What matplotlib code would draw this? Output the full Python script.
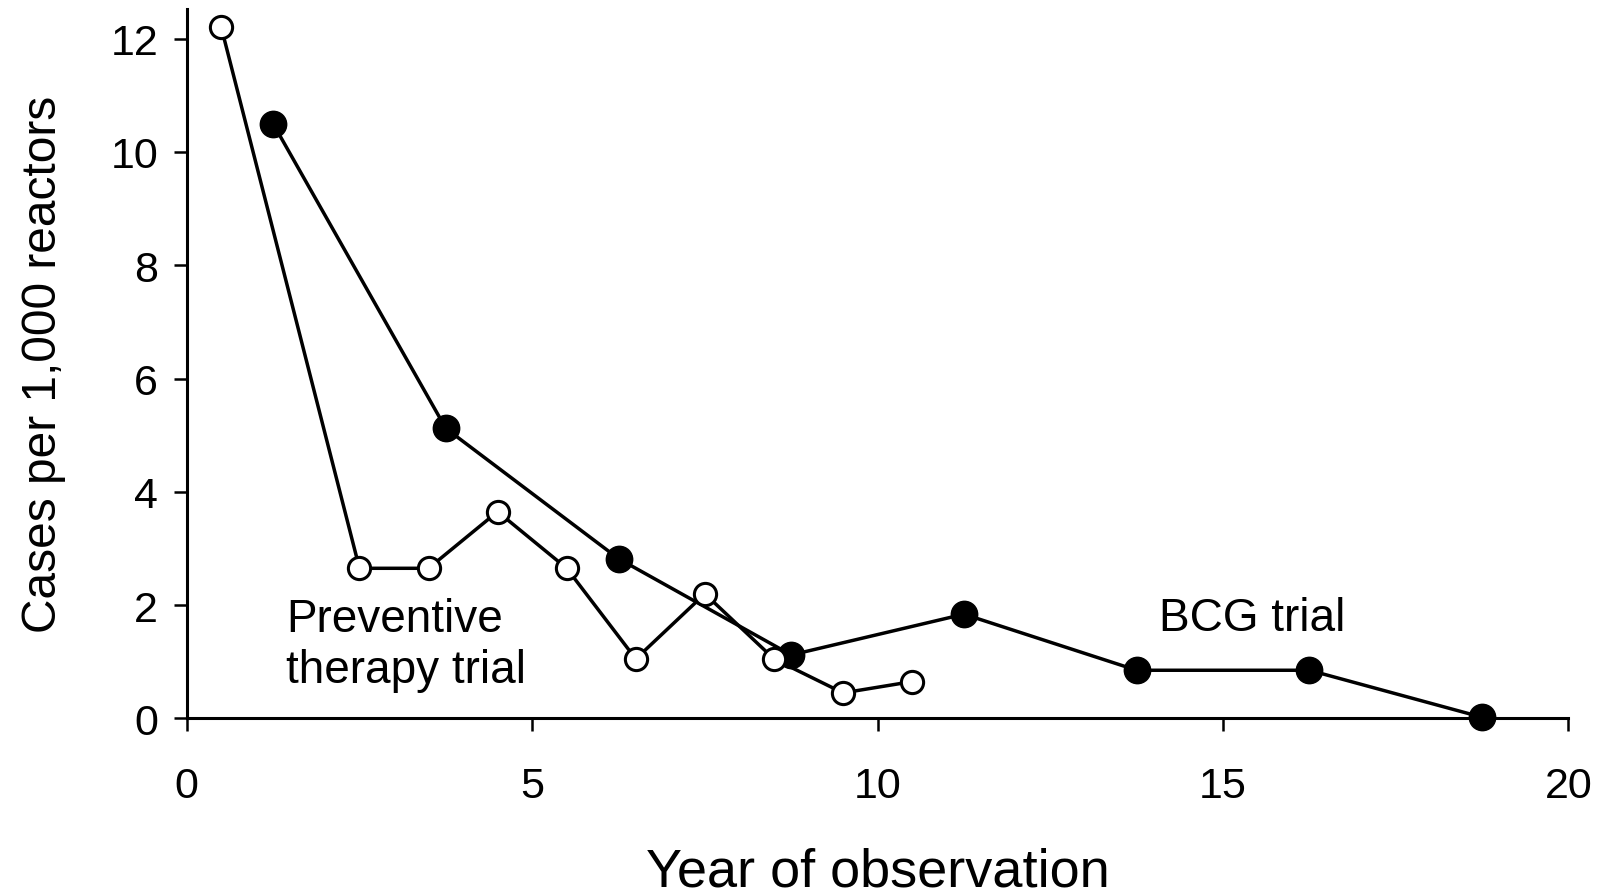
import numpy as np
import matplotlib.pyplot as plt

plt.rcParams["font.family"] = ["Liberation Sans", "DejaVu Sans"]

# preventive therapy trial (open circles)
pt_year = [0.5, 2.5, 3.5, 4.5, 5.5, 6.5, 7.5, 8.5, 9.5, 10.5]
pt_cases = [12.2, 2.65, 2.65, 3.65, 2.65, 1.05, 2.2, 1.05, 0.45, 0.65]

# BCG trial (filled circles)
bcg_year = [1.25, 3.75, 6.25, 8.75, 11.25, 13.75, 16.25, 18.75]
bcg_cases = [10.5, 5.12, 2.82, 1.12, 1.84, 0.85, 0.85, 0.02]

xticks = [0, 5, 10, 15, 20]
yticks = [0, 2, 4, 6, 8, 10, 12]

fig = plt.figure(figsize=(16, 8.95), dpi=100)
ax = fig.add_axes([0.1167, 0.1962, 0.8636, 0.7924])

ax.plot(bcg_year, bcg_cases, color="black", lw=2.5, marker="o", ms=19,
        mfc="black", mec="black", clip_on=False, zorder=3)
ax.plot(pt_year, pt_cases, color="black", lw=2.5, marker="o", ms=16,
        mfc="white", mec="black", mew=2.2, clip_on=False, zorder=4)

ax.set_xlim(0, 20)
ax.set_ylim(0, 12.52)
ax.set_xticks(xticks)
ax.set_yticks(yticks)
ax.tick_params(axis="both", direction="out", length=9.5, width=1.8, labelsize=31)
ax.tick_params(axis="x", pad=25)
ax.tick_params(axis="y", pad=11)

for side in ["top", "right"]:
    ax.spines[side].set_visible(False)
for side in ["left", "bottom"]:
    ax.spines[side].set_linewidth(2.2)

ax.set_xlabel("Year of observation", fontsize=39, labelpad=29)
ax.set_ylabel("Cases per 1,000 reactors", fontsize=34.5, labelpad=32)

ax.text(1.44, 1.31, "Preventive\ntherapy trial", fontsize=33, ha="left", va="center",
        linespacing=1.2)
ax.text(14.08, 1.77, "BCG trial", fontsize=33, ha="left", va="center")

fig.savefig("out.png", dpi=100)
